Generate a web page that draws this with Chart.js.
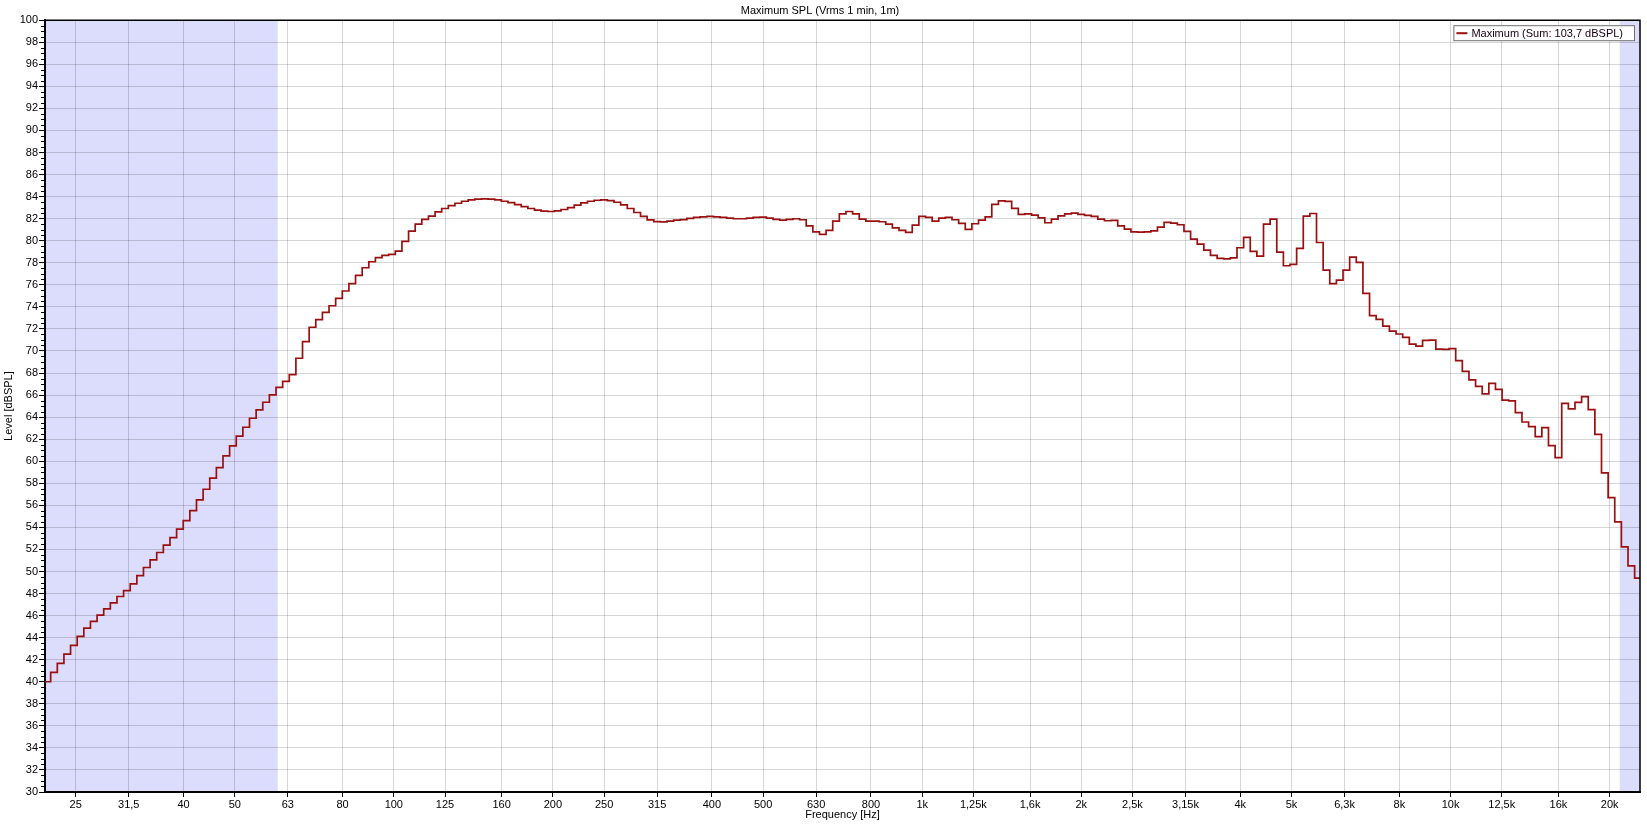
<!DOCTYPE html>
<html>
<head>
<meta charset="utf-8">
<title>Maximum SPL</title>
<script src="https://cdn.jsdelivr.net/npm/chart.js@4.4.1/dist/chart.umd.min.js"></script>
<style>
    html, body { margin: 0; padding: 0; background: #fff; overflow: hidden; }
    canvas { display: block; }
</style>
</head>
<body>
<canvas id="splChart" width="1647" height="824"></canvas>
<script>
// ========== DATOS ==========

// bandas de 1/24 octava, indice relativo a 1 kHz
const bandsPerOctave = 24;
const firstBand = -132;

// nivel por banda [dBSPL]
const levels = [
    40.0, 40.85, 41.67, 42.5, 43.3, 44.12, 44.86, 45.47, 46.04, 46.6,
    47.16, 47.73, 48.27, 48.88, 49.63, 50.36, 51.05, 51.72, 52.39, 53.08,
    53.84, 54.62, 55.52, 56.49, 57.46, 58.46, 59.42, 60.48, 61.39, 62.27,
    63.08, 63.9, 64.65, 65.35, 66.01, 66.7, 67.25, 67.85, 69.34, 70.85,
    72.15, 72.84, 73.5, 74.1, 74.77, 75.44, 76.1, 76.86, 77.55, 78.09,
    78.46, 78.67, 78.76, 79.06, 79.94, 80.87, 81.5, 81.93, 82.23, 82.62,
    82.92, 83.19, 83.4, 83.58, 83.7, 83.77, 83.79, 83.77, 83.7, 83.58,
    83.46, 83.28, 83.1, 82.92, 82.77, 82.68, 82.65, 82.71, 82.83, 83.01,
    83.22, 83.43, 83.58, 83.67, 83.7, 83.64, 83.49, 83.25, 82.92, 82.56,
    82.2, 81.89, 81.74, 81.71, 81.77, 81.86, 81.92, 82.02, 82.11, 82.17,
    82.2, 82.17, 82.11, 82.05, 81.99, 81.99, 82.05, 82.11, 82.14, 82.05,
    81.93, 81.87, 81.93, 81.99, 81.9, 81.35, 80.81, 80.57, 80.93, 81.78,
    82.44, 82.65, 82.44, 81.96, 81.78, 81.78, 81.72, 81.51, 81.17, 80.93,
    80.75, 81.42, 82.2, 82.11, 81.78, 82.05, 82.11, 81.9, 81.57, 81.02,
    81.54, 81.87, 82.17, 83.29, 83.62, 83.56, 82.93, 82.38, 82.44, 82.32,
    82.08, 81.63, 81.96, 82.26, 82.44, 82.5, 82.38, 82.29, 82.2, 81.95,
    81.81, 81.84, 81.35, 81.05, 80.81, 80.78, 80.81, 80.9, 81.23, 81.66,
    81.6, 81.45, 80.84, 80.15, 79.69, 79.15, 78.67, 78.39, 78.36, 78.45,
    79.36, 80.3, 79.03, 78.61, 81.51, 81.96, 78.97, 77.73, 77.85, 79.3,
    82.23, 82.47, 79.84, 77.34, 76.1, 76.43, 77.34, 78.51, 78.03, 75.22,
    73.2, 72.87, 72.26, 71.8, 71.54, 71.23, 70.62, 70.44, 70.96, 70.98,
    70.16, 70.15, 70.22, 69.12, 68.15, 67.38, 66.78, 66.1, 67.06, 66.52,
    65.55, 65.47, 64.41, 63.56, 63.14, 62.23, 63.05, 61.42, 60.33, 65.25,
    64.74, 65.34, 65.86, 64.68, 62.44, 58.94, 56.7, 54.5, 52.23, 50.51,
    49.39
];

// marcas del eje de frecuencia (tercios de octava)
const tickFreqs = [25, 31.5, 40, 50, 63, 80, 100, 125, 160, 200, 250, 315, 400, 500, 630, 800,
    1000, 1250, 1600, 2000, 2500, 3150, 4000, 5000, 6300, 8000, 10000, 12500, 16000, 20000];

// rango visible y zonas sombreadas [Hz]
const freqRange = [21.87, 22830];
const shadedRanges = [[21.87, 60.3], [20900, 22830]];
const levelRange = [30, 100];

const chartTitle = 'Maximum SPL (Vrms 1 min, 1m)';
const seriesLabel = 'Maximum (Sum: 103,7 dBSPL)';

// ========== FUNCIONES ==========

const fontFamily = "'Liberation Sans', Arial, sans-serif";

function bandEdge(i) {
    return 1000 * Math.pow(2, (firstBand + i - 0.5) / bandsPerOctave);
}

function buildPoints() {
    const pts = levels.map((v, i) => ({ x: bandEdge(i), y: v }));
    pts.push({ x: bandEdge(levels.length), y: levels[levels.length - 1] });
    return pts;
}

function formatFreq(v) {
    if (v >= 1000) return String(v / 1000).replace('.', ',') + 'k';
    return String(v).replace('.', ',');
}

// sombreado bajo la rejilla
const shadePlugin = {
    id: 'shade',
    beforeDraw(chart) {
        const { ctx, chartArea, scales } = chart;
        ctx.save();
        ctx.fillStyle = '#dcdcfc';
        shadedRanges.forEach(r => {
            const x1 = Math.max(scales.x.getPixelForValue(r[0]), chartArea.left);
            const x2 = Math.min(scales.x.getPixelForValue(r[1]), chartArea.right);
            ctx.fillRect(x1, chartArea.top, x2 - x1, chartArea.bottom - chartArea.top);
        });
        ctx.restore();
    }
};

// marco, marcas menores y leyenda
const framePlugin = {
    id: 'frame',
    afterDraw(chart) {
        const { ctx, chartArea, scales } = chart;
        ctx.save();

        // marcas menores cada 0,5 dB
        ctx.strokeStyle = '#000';
        ctx.lineWidth = 1;
        ctx.beginPath();
        for (let v = levelRange[0]; v <= levelRange[1]; v += 0.5) {
            if (v % 2 === 0) continue;
            const y = Math.round(scales.y.getPixelForValue(v)) + 0.5;
            ctx.moveTo(chartArea.left - 4, y);
            ctx.lineTo(chartArea.left, y);
        }
        ctx.stroke();

        // marco superior y derecho
        ctx.lineWidth = 1.5;
        ctx.beginPath();
        ctx.moveTo(chartArea.left, chartArea.top);
        ctx.lineTo(chartArea.right, chartArea.top);
        ctx.lineTo(chartArea.right, chartArea.bottom);
        ctx.stroke();

        // leyenda
        const ds = chart.data.datasets[0];
        ctx.font = '11px ' + fontFamily;
        const textW = ctx.measureText(ds.label).width;
        const right = chartArea.right - 5;
        const top = chartArea.top + 5;
        const left = right - (textW + 30);
        ctx.fillStyle = '#fff';
        ctx.fillRect(left, top, right - left, 16);
        ctx.strokeStyle = '#707070';
        ctx.lineWidth = 1;
        ctx.strokeRect(left + 0.5, top + 0.5, right - left - 1, 15);
        ctx.strokeStyle = ds.borderColor;
        ctx.lineWidth = 2;
        ctx.beginPath();
        ctx.moveTo(left + 3, top + 8);
        ctx.lineTo(left + 14, top + 8);
        ctx.stroke();
        ctx.fillStyle = '#1a0010';
        ctx.textBaseline = 'middle';
        ctx.fillText(ds.label, left + 18, top + 8.5);

        ctx.restore();
    }
};

function crearGraficoSPL() {
    const ctx = document.getElementById('splChart').getContext('2d');

    return new Chart(ctx, {
        type: 'line',
        data: {
            datasets: [{
                label: seriesLabel,
                data: buildPoints(),
                borderColor: '#9a1010',
                borderWidth: 1.7,
                pointRadius: 0,
                stepped: true,
                fill: false
            }]
        },
        options: {
            responsive: false,
            animation: false,
            events: [],
            layout: {
                padding: { left: 0, right: 7, top: 0, bottom: 0 }
            },
            plugins: {
                legend: { display: false },
                tooltip: { enabled: false },
                title: {
                    display: true,
                    text: chartTitle,
                    color: '#000',
                    font: { family: fontFamily, size: 11, weight: 'normal' },
                    padding: { top: 4, bottom: 3 }
                }
            },
            scales: {
                x: {
                    type: 'logarithmic',
                    min: freqRange[0],
                    max: freqRange[1],
                    afterBuildTicks: scale => {
                        scale.ticks = tickFreqs.map(v => ({ value: v }));
                    },
                    afterFit: scale => { scale.height = 32; },
                    grid: {
                        color: 'rgba(0,0,0,0.16)',
                        tickColor: '#000',
                        tickLength: 5
                    },
                    border: { color: '#000', width: 2 },
                    ticks: {
                        autoSkip: false,
                        maxRotation: 0,
                        padding: 1,
                        color: '#000',
                        font: { family: fontFamily, size: 11 },
                        callback: value => formatFreq(value)
                    },
                    title: {
                        display: true,
                        text: 'Frequency [Hz]',
                        color: '#000',
                        font: { family: fontFamily, size: 11 },
                        padding: { top: 0, bottom: 2.5 }
                    }
                },
                y: {
                    min: levelRange[0],
                    max: levelRange[1],
                    afterFit: scale => { scale.width = 45; },
                    grid: {
                        color: 'rgba(0,0,0,0.16)',
                        tickColor: '#000',
                        tickLength: 6
                    },
                    border: { color: '#000', width: 2 },
                    ticks: {
                        stepSize: 2,
                        autoSkip: false,
                        padding: 1,
                        color: '#000',
                        font: { family: fontFamily, size: 11 }
                    },
                    title: {
                        display: true,
                        text: 'Level [dBSPL]',
                        color: '#000',
                        font: { family: fontFamily, size: 11 },
                        padding: { top: 2, bottom: 0 }
                    }
                }
            }
        },
        plugins: [shadePlugin, framePlugin]
    });
}

crearGraficoSPL();
</script>
</body>
</html>
